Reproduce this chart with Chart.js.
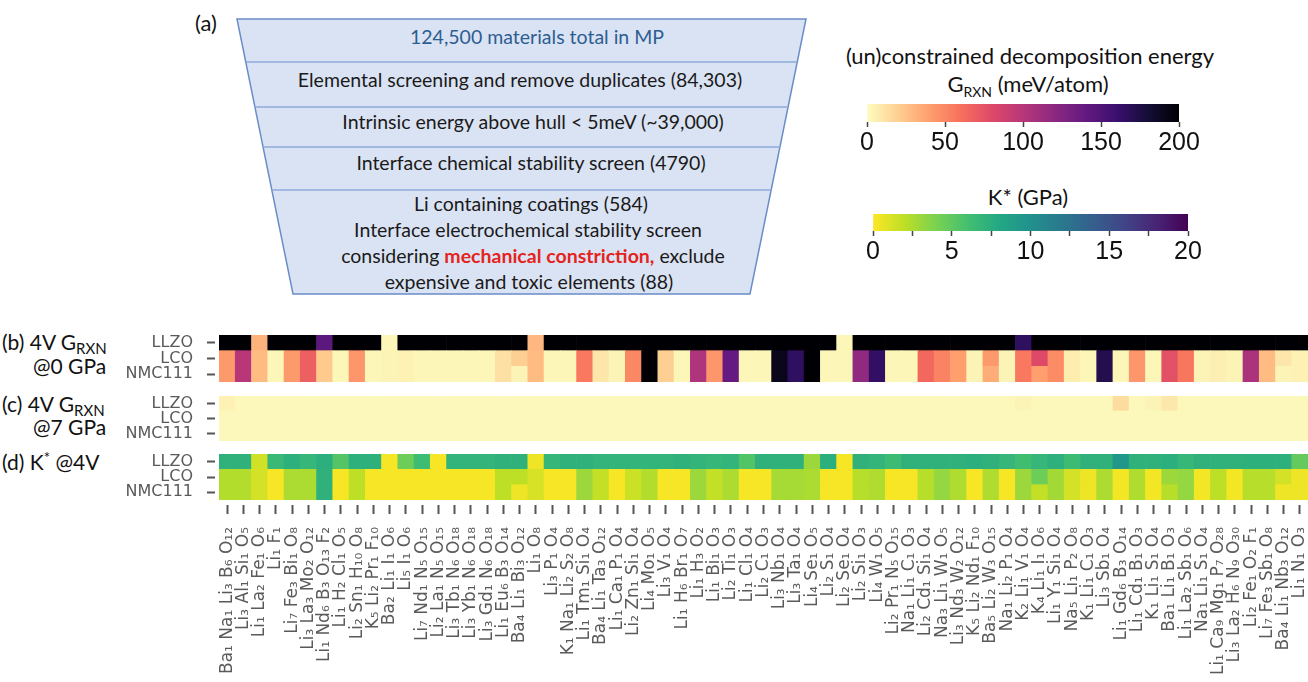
<!DOCTYPE html>
<html>
<head>
<meta charset="utf-8">
<script src="https://cdn.jsdelivr.net/npm/chart.js@4.4.1/dist/chart.umd.min.js"></script>
<style>
  html, body { margin: 0; padding: 0; background: #fff; }
  body { width: 1308px; height: 682px; position: relative; overflow: hidden; }
  .layer { position: absolute; left: 0; top: 0; }
  .plot { position: absolute; }
</style>
</head>
<body>

<svg class="layer" width="1308" height="682" font-family="Lato, 'Open Sans', sans-serif">
  <!-- (a) screening funnel -->
  <text x="195" y="31" font-size="22" fill="#111">(a)</text>
  <polygon points="237,19 806,19 750,294 293,294" fill="#dae3f3" stroke="#6a8cc8" stroke-width="1.5"/>
  <g stroke="#8eaadb" stroke-width="1.3">
    <line x1="245.8" y1="62" x2="797.2" y2="62"/>
    <line x1="254.9" y1="107" x2="788.1" y2="107"/>
    <line x1="263.1" y1="147" x2="779.9" y2="147"/>
    <line x1="271.8" y1="190" x2="771.2" y2="190"/>
  </g>
  <g font-size="19.5" fill="#1a1a1a" text-anchor="middle">
    <text x="537" y="44" fill="#2e5d92">124,500 materials total in MP</text>
    <text x="520" y="87">Elemental screening and remove duplicates (84,303)</text>
    <text x="533" y="129">Intrinsic energy above hull &lt; 5meV (~39,000)</text>
    <text x="531" y="170">Interface chemical stability screen (4790)</text>
    <text x="531" y="211">Li containing coatings (584)</text>
    <text x="528" y="237">Interface electrochemical stability  screen</text>
    <text x="533" y="263">considering <tspan fill="#e42320" font-weight="bold">mechanical constriction,</tspan> exclude</text>
    <text x="529" y="289">expensive and toxic elements (88)</text>
  </g>

  <!-- colorbar titles -->
  <g font-size="22" fill="#111" text-anchor="middle">
    <text x="1030" y="64">(un)constrained decomposition energy</text>
    <text x="1028" y="92">G<tspan font-size="14" dy="5">RXN</tspan><tspan dy="-5"> (meV/atom)</tspan></text>
    <text x="1028" y="205">K* (GPa)</text>
  </g>

  <!-- panel titles -->
  <g font-size="21" fill="#111">
    <text x="2" y="350">(b) 4V G<tspan font-size="15" dy="4">RXN</tspan></text>
    <text x="33" y="374">@0 GPa</text>
    <text x="2" y="412">(c) 4V G<tspan font-size="15" dy="4">RXN</tspan></text>
    <text x="33" y="435">@7 GPa</text>
    <text x="2" y="470">(d) K<tspan font-size="15" dy="-7">*</tspan><tspan dy="7"> @4V</tspan></text>
  </g>
</svg>

<div class="plot" style="left:100px;top:335px;width:1208px;height:47px"><canvas id="heatG0"></canvas></div>
<div class="plot" style="left:100px;top:396px;width:1208px;height:45px"><canvas id="heatG7"></canvas></div>
<div class="plot" style="left:100px;top:454px;width:1208px;height:228px"><canvas id="heatK"></canvas></div>
<div class="plot" style="left:837px;top:104px;width:372px;height:60px"><canvas id="barG"></canvas></div>
<div class="plot" style="left:843px;top:214px;width:375px;height:59px"><canvas id="barK"></canvas></div>

<script>
// coating candidates (x categories)
const materials = [
  "Ba1 Na1 Li3 B6 O12", "Li3 Al1 Si1 O5", "Li1 La2 Fe1 O6", "Li1 F1", "Li7 Fe3 Bi1 O8",
  "Li3 La3 Mo2 O12", "Li1 Nd6 B3 O13 F2", "Li1 H2 Cl1 O5", "Li2 Sn1 H10 O8", "K5 Li2 Pr1 F10",
  "Ba2 Li1 I1 O6", "Li5 I1 O6", "Li7 Nd1 N5 O15", "Li2 La1 N5 O15", "Li3 Tb1 N6 O18",
  "Li3 Yb1 N6 O18", "Li3 Gd1 N6 O18", "Li1 Eu6 B3 O14", "Ba4 Li1 Bi3 O12", "Li1 O8",
  "Li3 P1 O4", "K1 Na1 Li2 S2 O8", "Li1 Tm1 Si1 O4", "Ba4 Li1 Ta3 O12", "Li1 Ca1 P1 O4",
  "Li2 Zn1 Si1 O4", "Li4 Mo1 O5", "Li3 V1 O4", "Li1 H6 Br1 O7", "Li1 H3 O2",
  "Li1 Bi1 O3", "Li2 Ti1 O3", "Li1 Cl1 O4", "Li2 C1 O3", "Li3 Nb1 O4",
  "Li3 Ta1 O4", "Li4 Se1 O5", "Li2 S1 O4", "Li2 Se1 O4", "Li2 Si1 O3",
  "Li4 W1 O5", "Li2 Pr1 N5 O15", "Na1 Li1 C1 O3", "Li2 Cd1 Si1 O4", "Na3 Li1 W1 O5",
  "Li3 Nd3 W2 O12", "K5 Li2 Nd1 F10", "Ba5 Li2 W3 O15", "Na1 Li2 P1 O4", "K2 Li1 V1 O4",
  "K4 Li1 I1 O6", "Li1 Y1 Si1 O4", "Na5 Li1 P2 O8", "K1 Li1 C1 O3", "Li3 Sb1 O4",
  "Li1 Gd6 B3 O14", "Li1 Cd1 B1 O3", "K1 Li1 S1 O4", "Ba1 Li1 B1 O3", "Li1 La2 Sb1 O6",
  "Na1 Li1 S1 O4", "Li1 Ca9 Mg1 P7 O28", "Li3 La2 H6 N9 O30", "Li2 Fe1 O2 F1", "Li7 Fe3 Sb1 O8",
  "Ba4 Li1 Nb3 O12", "Li1 N1 O3"
];

// rows, bottom to top
const rowNames = ["NMC111", "LCO", "LLZO"];
const rowTicks = [0.5, 1.5, 2.5];

// (b) G_RXN at 0 GPa, meV/atom
const g0LLZO = [200,200,32,200,200,200,144,200,200,200, 3,200,200,200,200,200,200,200,200,30,
  200,200,200,200,200,200,200,200,200,200, 200,200,200,200,200,200,200,200,3,200,
  200,200,200,200,200,200,200,200,200,166, 200,200,200,200,200,200,200,200,200,200,
  200,200,200,200,200,200,200];
const g0LCO = [42,100,28,3,42,68,22,3,44,3, 4,5,3,3,3,3,3,12,20,28,
  3,3,56,10,4,50,200,20,3,104, 44,140,3,3,190,166,200,3,3,118,
  164,3,3,64,52,40,4,42,4,56, 80,48,7,3,172,3,44,3,76,58,
  4,6,4,106,28,10,5];
const g0NMC = [42,100,28,3,42,68,22,3,44,3, 4,5,3,3,3,3,3,12,4,28,
  3,3,56,10,4,50,200,20,3,104, 44,140,3,3,190,166,200,3,3,118,
  164,3,3,64,52,40,4,34,4,56, 40,48,7,3,172,3,44,3,76,58,
  4,6,4,106,28,4,5];

// (c) G_RXN at 7 GPa
const g7LLZO = [5,2,2,2,2,2,2,2,2,2, 2,2,2,2,2,2,2,2,2,2,
  2,2,2,2,2,2,2,2,2,2, 2,2,2,2,2,2,2,2,2,2,
  2,2,2,2,2,2,2,2,2,4, 2,2,2,2,2,14,2,4,9,2,
  2,2,2,2,2,2,2];
const g7LCO = [2,2,2,2,2,2,2,2,2,2, 2,2,2,2,2,2,2,2,2,2,
  2,2,2,2,2,2,2,2,2,2, 2,2,2,2,2,2,2,2,2,2,
  2,2,2,2,2,2,2,2,2,2, 2,2,2,2,2,2,2,2,2,2,
  2,2,2,2,2,2,2];
const g7NMC = [2,2,2,2,2,2,2,2,2,2, 2,2,2,2,2,2,2,2,2,2,
  2,2,2,2,2,2,2,2,2,2, 2,2,2,2,2,2,2,2,2,2,
  2,2,2,2,2,2,2,2,2,2, 2,2,2,2,2,2,2,2,2,2,
  2,2,2,2,2,2,2];

// (d) K* at 4 V, GPa
const kLLZO = [7.2,7.2,1.4,6.6,7.3,6.8,7.4,5.4,7.3,7.3, 0.2,4.5,6.3,0.2,7,7,7,7.2,7.2,0.5,
  6.8,7.2,7.2,7,7,7,7,7,7.2,7, 6.8,7,5.5,7.2,7.2,7.2,3,7.4,0.2,7.2,
  7,6.4,7.2,7.2,7.2,7.2,7.4,7.2,6.8,6.2, 6.8,7.3,6.4,7.2,7.2,9.5,7.2,7.2,7.4,6.8,
  7.2,7.2,7.2,7.3,7.3,7.3,4.8];
const kLCO = [2.3,2.3,1.3,0.2,2.5,2.5,7.2,0.2,2,0.2, 0.2,0.2,0.2,0.2,0.2,0.2,0.2,2,2,1.2,
  0.2,0.2,3,1.8,0.2,1.6,2.3,0.2,0.2,3, 1.8,2.5,0.2,0.2,2.7,2.7,2.5,0.2,0.2,2.2,
  2.4,0.2,0.2,2.2,3.2,2.4,0.2,2.4,0.2,3, 4.5,2.8,1.3,0.5,2.5,0.3,2.4,0.3,3,3.2,
  0.3,2,0.3,2.2,2.2,1.3,0.5];
const kNMC = [2.3,2.3,1.3,0.2,2.5,2.5,7.2,0.2,2,0.2, 0.2,0.2,0.2,0.2,0.2,0.2,0.2,2,0.5,1.2,
  0.2,0.2,3,1.8,0.2,1.6,2.3,0.2,0.2,3, 1.8,2.5,0.2,0.2,2.7,2.7,2.5,0.2,0.2,2.2,
  2.4,0.2,0.2,2.2,3.2,2.4,0.2,2.4,0.2,3, 1.8,2.8,1.3,0.5,2.5,0.3,2.4,0.3,2.2,3.2,
  0.3,2,0.3,2.2,2.2,0.5,0.5];

// colorbar ranges and ticks
const gRange = [0, 200];
const gTicks = [0, 50, 100, 150, 200];
const kRange = [0, 20];
const kTicks = [0, 5, 10, 15, 20];

// colormaps (sampled every 0.1)
const magma = ["#000004","#140e36","#3b0f70","#641a80","#8c2981","#b73779","#de4968","#f7705c","#fe9f6d","#fecf92","#fcfdbf"];
const viridis = ["#440154","#482475","#414487","#355f8d","#2a788e","#21918c","#22a884","#44bf70","#7ad151","#bddf26","#fde725"];

const SUB = "₀₁₂₃₄₅₆₇₈₉";
const subs = s => s.replace(/\d/g, d => SUB[d]);

function hexRgb(h) {
  return [1, 3, 5].map(i => parseInt(h.slice(i, i + 2), 16));
}

// reversed map: 0 -> last stop, vmax -> first stop
function cmap(stops, v, vmax) {
  let t = 1 - v / vmax;
  t = Math.min(1, Math.max(0, t));
  const p = t * (stops.length - 1);
  const i = Math.min(Math.floor(p), stops.length - 2);
  const f = p - i;
  const a = hexRgb(stops[i]), b = hexRgb(stops[i + 1]);
  return "rgb(" + a.map((c, k) => Math.round(c + (b[k] - c) * f)).join(",") + ")";
}

const rowFont = { family: "'DejaVu Sans', sans-serif", size: 16 };
const matFont = { family: "'DejaVu Sans', sans-serif", size: 17 };

function heatChart(id, rows, stops, vmax, showX) {
  const datasets = rows.map((vals, i) => ({
    label: rowNames[i],
    data: vals.map(() => 1),
    backgroundColor: vals.map(v => cmap(stops, v, vmax)),
    borderWidth: 0,
    barPercentage: 1,
    categoryPercentage: 1
  }));

  const xScale = showX ? {
    stacked: true,
    offset: true,
    border: { display: false },
    grid: { offset: false, drawOnChartArea: false, tickLength: 14, tickWidth: 2, tickColor: "#555",
            tickBorderDash: [9, 5], tickBorderDashOffset: 9 },
    afterFit: ax => { ax.height = 182; ax.paddingLeft = 0; ax.paddingRight = 0; },
    ticks: { autoSkip: false, minRotation: 90, maxRotation: 90, padding: 13, color: "#5a5a5a", font: matFont }
  } : { display: false, stacked: true, offset: true };

  return new Chart(document.getElementById(id), {
    type: "bar",
    data: { labels: materials.map(subs), datasets },
    options: {
      responsive: true,
      maintainAspectRatio: false,
      animation: false,
      events: [],
      layout: { padding: 0 },
      plugins: { legend: { display: false }, tooltip: { enabled: false } },
      scales: {
        x: xScale,
        y: {
          stacked: true,
          min: 0,
          max: 3,
          border: { display: false },
          grid: { drawOnChartArea: false, tickLength: 12, tickWidth: 2, tickColor: "#555", tickBorderDash: [8, 4] },
          afterBuildTicks: ax => { ax.ticks = rowTicks.map(v => ({ value: v })); },
          afterFit: ax => { ax.width = 119; ax.paddingTop = 0; ax.paddingBottom = 0; },
          ticks: { autoSkip: false, padding: 14, color: "#5a5a5a", font: rowFont, callback: (v, i) => rowNames[i] }
        }
      }
    }
  });
}

function colorBar(id, stops, range, labels) {
  const step = (labels[1] - labels[0]) / 2;
  return new Chart(document.getElementById(id), {
    type: "bar",
    data: {
      labels: [""],
      datasets: [{
        data: [range],
        borderWidth: 0,
        barPercentage: 1,
        categoryPercentage: 1,
        backgroundColor: c => {
          const a = c.chart.chartArea;
          if (!a) return stops[stops.length - 1];
          const g = c.chart.ctx.createLinearGradient(a.left, 0, a.right, 0);
          stops.slice().reverse().forEach((s, i) => g.addColorStop(i / (stops.length - 1), s));
          return g;
        }
      }]
    },
    options: {
      indexAxis: "y",
      responsive: true,
      maintainAspectRatio: false,
      animation: false,
      events: [],
      layout: { padding: { left: 30, right: 30, top: 0, bottom: 0 } },
      plugins: { legend: { display: false }, tooltip: { enabled: false } },
      scales: {
        y: { display: false },
        x: {
          type: "linear",
          min: range[0],
          max: range[1],
          border: { display: false },
          grid: { drawOnChartArea: false, tickLength: 5, tickWidth: 1.5, tickColor: "#444" },
          afterFit: ax => { ax.height = 42; },
          ticks: {
            stepSize: step,
            padding: 1,
            color: "#111",
            font: { family: "'Liberation Sans', Arial, sans-serif", size: 25 },
            callback: v => labels.includes(v) ? String(v) : ""
          }
        }
      }
    }
  });
}

heatChart("heatG0", [g0NMC, g0LCO, g0LLZO], magma, 200, false);
heatChart("heatG7", [g7NMC, g7LCO, g7LLZO], magma, 200, false);
heatChart("heatK", [kNMC, kLCO, kLLZO], viridis, 20, true);
colorBar("barG", magma, gRange, gTicks);
colorBar("barK", viridis, kRange, kTicks);
</script>
</body>
</html>
